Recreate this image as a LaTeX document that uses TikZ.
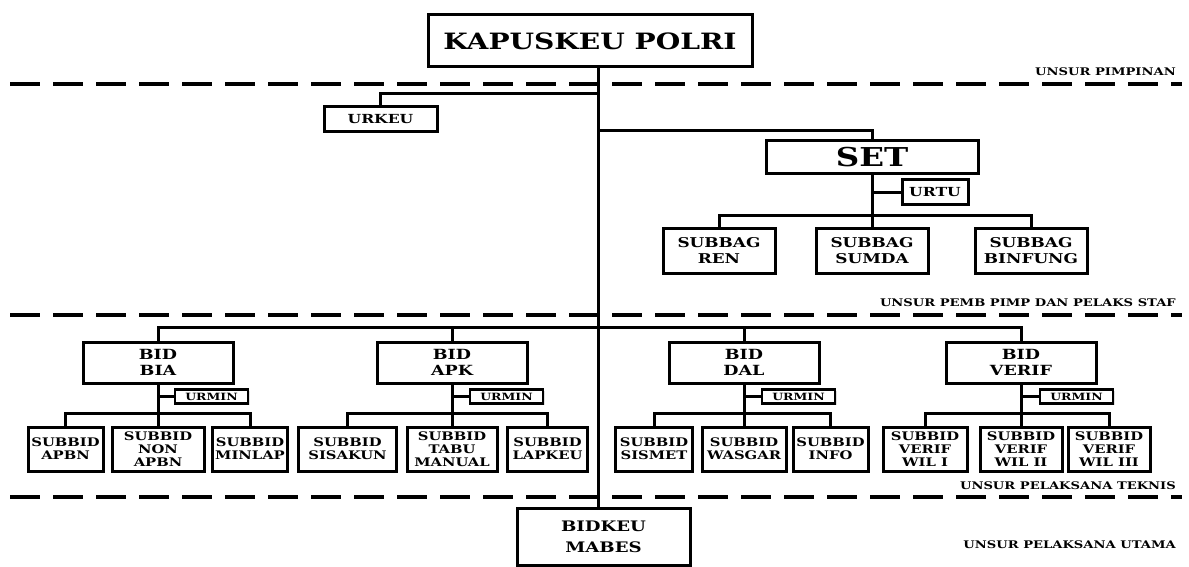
\documentclass[tikz,border=0pt]{standalone}
\usepackage{fontspec}
\newfontfamily\chartfont[FakeStretch=1.25]{DejaVu Serif}
\usetikzlibrary{shadows}
\begin{document}
\begin{tikzpicture}[x=1pt,y=-1pt,
  box/.style={draw, line width=3pt, fill=white, inner sep=0pt, align=center,
    drop shadow={opacity=0.25, shadow xshift=1.5pt, shadow yshift=-1.5pt}},
  topbox/.style={box, minimum width=324pt, minimum height=52pt,
    font=\chartfont\bfseries\fontsize{22.5}{24}\selectfont},
  setbox/.style={box, minimum width=212pt, minimum height=33pt,
    font=\chartfont\bfseries\fontsize{26}{27}\selectfont},
  smallbox/.style={box, line width=3pt, minimum height=25pt,
    font=\chartfont\bfseries\fontsize{12.5}{14}\selectfont},
  urminbox/.style={box, line width=2.6pt, minimum width=73pt, minimum height=14pt,
    font=\chartfont\bfseries\fontsize{10}{11}\selectfont},
  subbagbox/.style={box, minimum width=112pt, minimum height=45pt,
    font=\chartfont\bfseries\fontsize{13.5}{15.5}\selectfont},
  bidbox/.style={box, minimum width=150pt, minimum height=41pt,
    font=\chartfont\bfseries\fontsize{14}{16}\selectfont},
  subbidbox/.style={box, minimum height=44pt,
    font=\chartfont\bfseries\fontsize{11.8}{13}\selectfont},
  mabesbox/.style={box, minimum width=173pt, minimum height=57pt,
    font=\chartfont\bfseries\fontsize{14.5}{21}\selectfont},
  conn/.style={line width=3pt},
  sepline/.style={line width=3.2pt, dash pattern=on 30pt off 13pt},
  seclabel/.style={anchor=east, inner sep=0pt,
    font=\chartfont\bfseries\fontsize{10.5}{12}\selectfont}
]
\useasboundingbox (0,0) rectangle (1189,567);

% separators
\coordinate (sepL1) at (10,84);  \coordinate (sepR1) at (1182,84);
\coordinate (sepL2) at (10,315); \coordinate (sepR2) at (1182,315);
\coordinate (sepL3) at (10,497); \coordinate (sepR3) at (1182,497);
\draw[sepline] (sepL1) -- (sepR1);
\draw[sepline] (sepL2) -- (sepR2);
\draw[sepline] (sepL3) -- (sepR3);

\node[seclabel] (l1) at (1176,72)  {UNSUR PIMPINAN};
\node[seclabel] (l2) at (1176,303) {UNSUR PEMB PIMP DAN PELAKS STAF};
\node[seclabel] (l3) at (1176,486) {UNSUR PELAKSANA TEKNIS};
\node[seclabel] (l4) at (1176,545) {UNSUR PELAKSANA UTAMA};

% trunk
\coordinate (trunk) at (598,0);
\coordinate (jU) at (598,94);
\coordinate (jS) at (598,131);

% nodes
\node[topbox] (kap) at (590,41) {KAPUSKEU POLRI};
\node[mabesbox] (mabes) at (603.5,536.5) {BIDKEU\\MABES};
\draw[conn] (trunk |- kap.south) -- (trunk |- mabes.north);

\node[smallbox, minimum width=113pt] (urkeu) at (380.5,119.5) {URKEU};
\draw[conn] (jU) -| (urkeu.north);

\node[setbox] (set) at (872,157.5) {SET};
\draw[conn] (jS) -| (set.north);
\node[smallbox, minimum width=66pt] (urtu) at (935,192) {URTU};
\node[subbagbox] (ren) at (719,250.5) {SUBBAG\\REN};
\node[subbagbox] (sumda) at (872,250.5) {SUBBAG\\SUMDA};
\node[subbagbox] (binfung) at (1031,250.5) {SUBBAG\\BINFUNG};
\draw[conn] (set.south) -- (sumda.north);
\draw[conn] (set.south |- urtu.west) -- (urtu.west);
\draw[conn] (ren.north) -- ++(0,-11) -| (binfung.north);

% BID level
\node[bidbox] (bia) at (158,362.5) {BID\\BIA};
\node[bidbox] (apk) at (452,362.5) {BID\\APK};
\node[bidbox] (dal) at (744,362.5) {BID\\DAL};
\node[bidbox] (verif) at (1021,362.5) {BID\\VERIF};
\draw[conn] (bia.north) -- ++(0,-13) -| (verif.north);
\draw[conn] (apk.north) -- ++(0,-13);
\draw[conn] (dal.north) -- ++(0,-13);

\node[urminbox] (umA) at (211.5,396.5) {URMIN};
\node[urminbox] (umB) at (506.5,396.5) {URMIN};
\node[urminbox] (umC) at (798.5,396.5) {URMIN};
\node[urminbox] (umD) at (1076.5,396.5) {URMIN};

% subbid BIA
\node[subbidbox, minimum width=75pt] (apbn) at (65.5,449) {SUBBID\\APBN};
\node[subbidbox, minimum width=92pt] (nonapbn) at (158,449) {SUBBID\\NON\\APBN};
\node[subbidbox, minimum width=75pt] (minlap) at (250,449) {SUBBID\\MINLAP};
% subbid APK
\node[subbidbox, minimum width=98pt] (sisakun) at (347.5,449) {SUBBID\\SISAKUN};
\node[subbidbox, minimum width=90pt] (tabu) at (452,449) {SUBBID\\TABU\\MANUAL};
\node[subbidbox, minimum width=80pt] (lapkeu) at (547.5,449) {SUBBID\\LAPKEU};
% subbid DAL
\node[subbidbox, minimum width=77pt] (sismet) at (654,449) {SUBBID\\SISMET};
\node[subbidbox, minimum width=84pt] (wasgar) at (744,449) {SUBBID\\WASGAR};
\node[subbidbox, minimum width=75pt] (info) at (830.5,449) {SUBBID\\INFO};
% subbid VERIF
\node[subbidbox, minimum width=84pt] (wil1) at (925,449) {SUBBID\\VERIF\\WIL I};
\node[subbidbox, minimum width=82pt] (wil2) at (1021,449) {SUBBID\\VERIF\\WIL II};
\node[subbidbox, minimum width=82pt] (wil3) at (1109,449) {SUBBID\\VERIF\\WIL III};

% BID -> subbid connectors
\draw[conn] (bia.south) -- (nonapbn.north);
\draw[conn] (bia.south |- umA.west) -- (umA.west);
\draw[conn] (apbn.north) -- ++(0,-12) -| (minlap.north);

\draw[conn] (apk.south) -- (tabu.north);
\draw[conn] (apk.south |- umB.west) -- (umB.west);
\draw[conn] (sisakun.north) -- ++(0,-12) -| (lapkeu.north);

\draw[conn] (dal.south) -- (wasgar.north);
\draw[conn] (dal.south |- umC.west) -- (umC.west);
\draw[conn] (sismet.north) -- ++(0,-12) -| (info.north);

\draw[conn] (verif.south) -- (wil2.north);
\draw[conn] (verif.south |- umD.west) -- (umD.west);
\draw[conn] (wil1.north) -- ++(0,-12) -| (wil3.north);
\end{tikzpicture}
\end{document}
